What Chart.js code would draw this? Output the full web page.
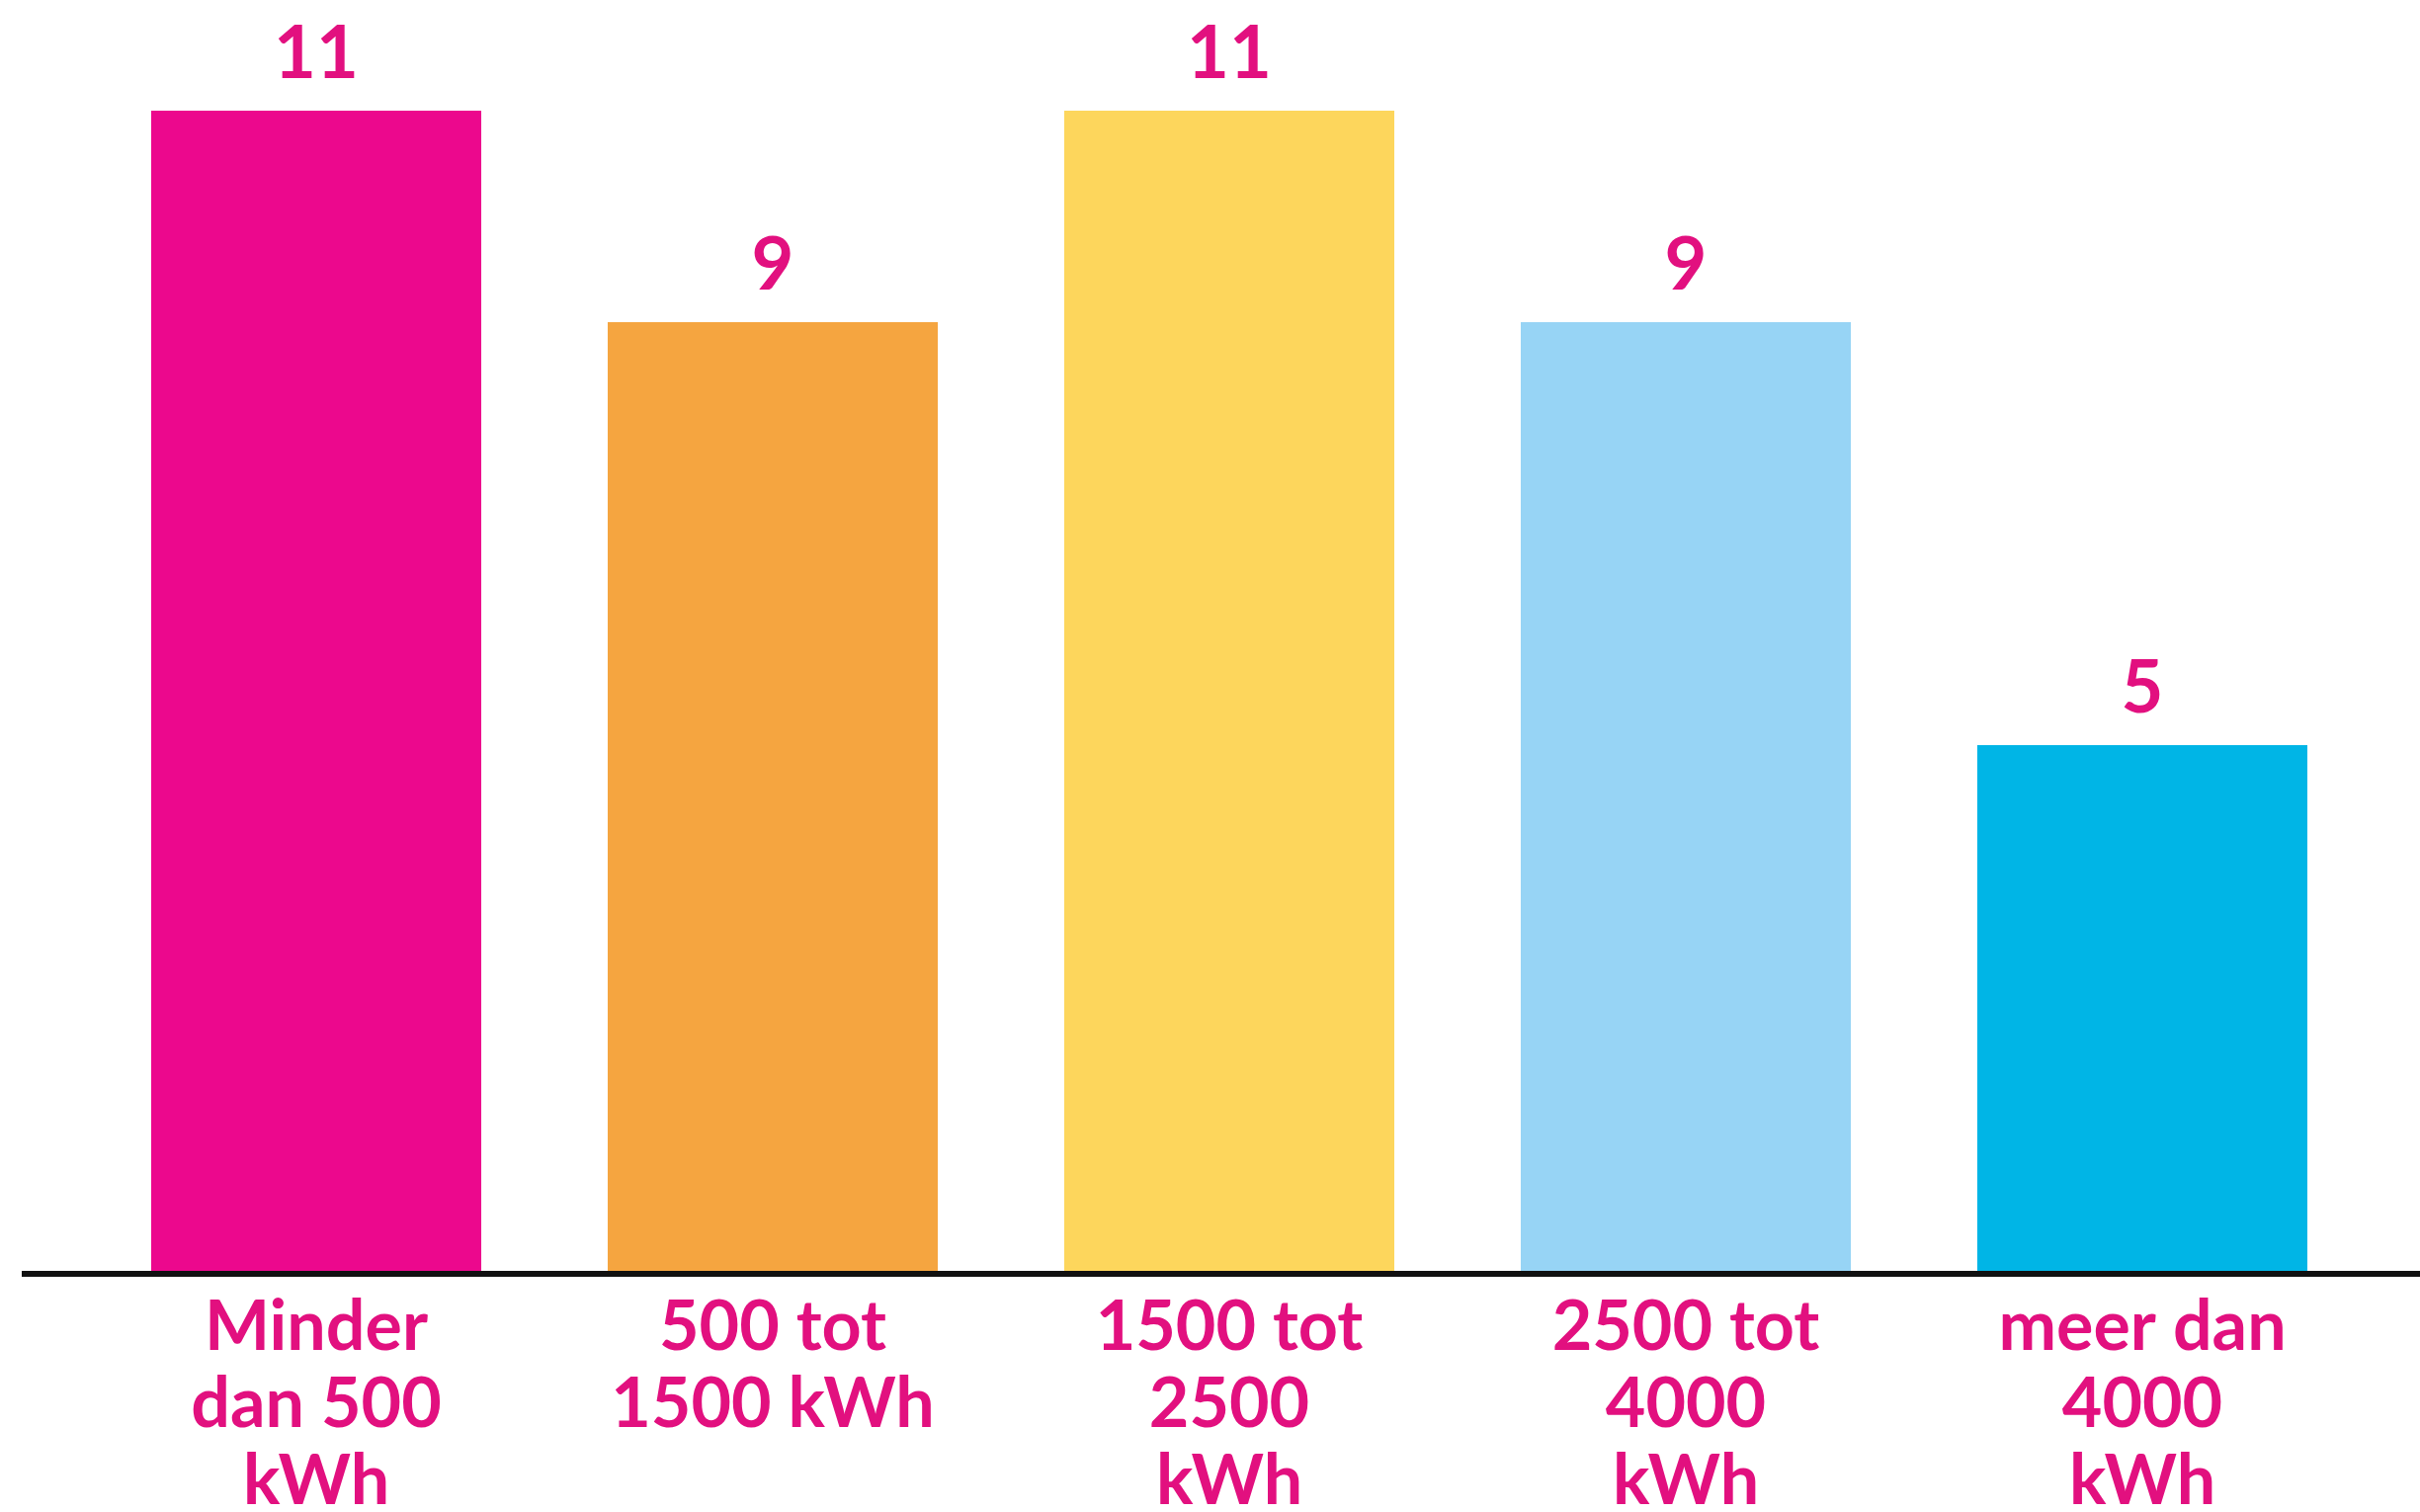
<!DOCTYPE html>
<html>
<head>
<meta charset="utf-8">
<script src="https://cdn.jsdelivr.net/npm/chart.js@4.4.1/dist/chart.umd.min.js"></script>
<style>
  html, body { margin: 0; padding: 0; background: #ffffff; }
  #wrap { width: 2449px; height: 1530px; position: relative; }
</style>
</head>
<body>
<div id="wrap"><canvas id="chart"></canvas></div>
<script>
// categories (multi-line tick labels)
const categories = [
  ["Minder", "dan 500", "kWh"],
  ["500 tot", "1500 kWh"],
  ["1500 tot", "2500", "kWh"],
  ["2500 tot", "4000", "kWh"],
  ["meer dan", "4000", "kWh"]
];
const values = [11, 9, 11, 9, 5];
const barColors = ["#EC088D", "#F5A540", "#FDD65C", "#97D4F5", "#00B5E6"];

const textPink = "#E2107F";
const fontFamily = "Lato, 'Open Sans', sans-serif";

// value labels above each bar
const valueLabels = {
  id: "valueLabels",
  afterDatasetsDraw(chart) {
    const ctx = chart.ctx;
    const meta = chart.getDatasetMeta(0);
    ctx.save();
    ctx.fillStyle = textPink;
    ctx.font = "700 74px " + fontFamily;
    ctx.textAlign = "center";
    ctx.textBaseline = "middle";
    meta.data.forEach((bar, i) => {
      ctx.fillText(String(values[i]), bar.x, bar.y - 57);
    });
    ctx.restore();
  }
};

// black baseline running across the whole width
const baseline = {
  id: "baseline",
  afterDatasetsDraw(chart) {
    const ctx = chart.ctx;
    const y = chart.scales.y.getPixelForValue(0);
    ctx.save();
    ctx.strokeStyle = "#111111";
    ctx.lineWidth = 6;
    ctx.beginPath();
    ctx.moveTo(22, y);
    ctx.lineTo(chart.width, y);
    ctx.stroke();
    ctx.restore();
  }
};

new Chart(document.getElementById("chart"), {
  type: "bar",
  data: {
    labels: categories,
    datasets: [{
      data: values,
      backgroundColor: barColors,
      borderWidth: 0,
      barPercentage: 0.723,
      categoryPercentage: 1.0
    }]
  },
  options: {
    responsive: true,
    maintainAspectRatio: false,
    animation: false,
    devicePixelRatio: 1,
    layout: { padding: { top: 112, left: 89, right: 50, bottom: 0 } },
    plugins: {
      legend: { display: false },
      tooltip: { enabled: false }
    },
    scales: {
      x: {
        grid: { display: false, drawTicks: false },
        border: { display: false },
        ticks: {
          color: textPink,
          padding: 15,
          font: { family: fontFamily, size: 70, weight: "700", lineHeight: 1.115 }
        },
        afterFit(scale) { scale.height = 241; }
      },
      y: {
        display: false,
        min: 0,
        max: 11
      }
    }
  },
  plugins: [valueLabels, baseline]
});
</script>
</body>
</html>
